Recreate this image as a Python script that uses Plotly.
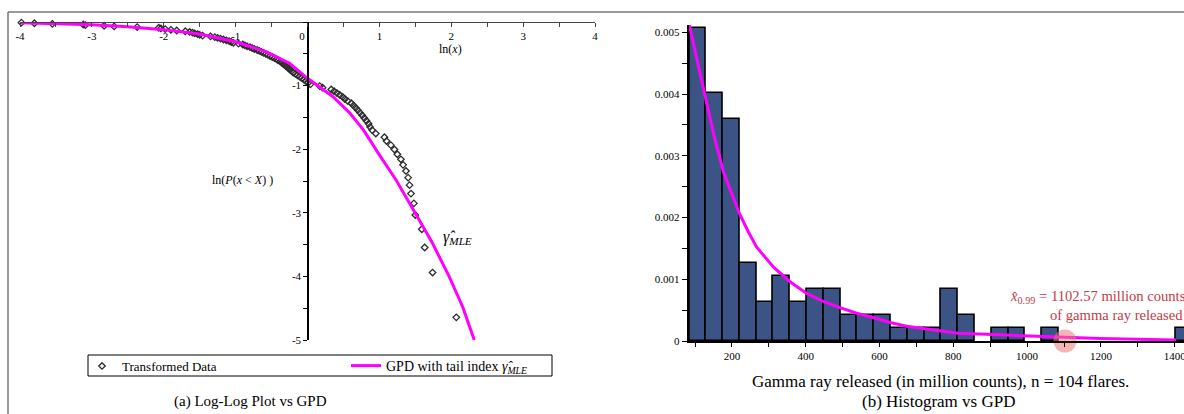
import plotly.graph_objects as go

W, H = 1184, 414
SERIF = "Liberation Serif"

# ---------------- Left panel data: log-log plot ----------------
loglog_x = [-3.98, -3.80, -3.55, -3.12, -3.09, -2.83, -2.69, -2.37, -2.07, -2.04,
            -1.98, -1.90, -1.82, -1.70, -1.64, -1.60, -1.57, -1.53, -1.50, -1.46,
            -1.35, -1.29, -1.25, -1.21, -1.17, -1.13, -1.09, -1.06, -1.03, -0.96,
            -0.90, -0.87, -0.84, -0.80, -0.77, -0.74, -0.70, -0.67, -0.64, -0.61,
            -0.58, -0.55, -0.52, -0.49, -0.46, -0.43, -0.41, -0.38, -0.36, -0.34,
            -0.32, -0.30, -0.28, -0.26, -0.24, -0.22, -0.20, -0.17, -0.14, -0.11,
            -0.08, -0.05, -0.02, 0.01, 0.04, 0.17, 0.21, 0.33, 0.37, 0.41,
            0.45, 0.49, 0.52, 0.56, 0.61, 0.64, 0.67, 0.70, 0.73, 0.76,
            0.79, 0.82, 0.85, 0.87, 0.90, 0.95, 1.07, 1.10, 1.16, 1.21,
            1.25, 1.30, 1.33, 1.37, 1.40, 1.42, 1.44, 1.48, 1.50, 1.59,
            1.63, 1.74, 2.07]
loglog_y = [-0.010, -0.019, -0.029, -0.039, -0.049, -0.059, -0.070, -0.080, -0.091, -0.101,
            -0.112, -0.123, -0.134, -0.145, -0.156, -0.167, -0.178, -0.190, -0.202, -0.214,
            -0.226, -0.238, -0.250, -0.262, -0.275, -0.288, -0.301, -0.314, -0.327, -0.340,
            -0.354, -0.368, -0.382, -0.396, -0.410, -0.425, -0.440, -0.455, -0.470, -0.486,
            -0.501, -0.517, -0.534, -0.550, -0.567, -0.584, -0.601, -0.619, -0.637, -0.655,
            -0.674, -0.693, -0.712, -0.732, -0.752, -0.773, -0.794, -0.816, -0.838, -0.860,
            -0.883, -0.907, -0.931, -0.955, -0.981, -1.007, -1.033, -1.061, -1.089, -1.118,
            -1.148, -1.179, -1.210, -1.243, -1.277, -1.312, -1.348, -1.386, -1.425, -1.466,
            -1.509, -1.553, -1.600, -1.649, -1.700, -1.754, -1.811, -1.872, -1.936, -2.005,
            -2.079, -2.159, -2.246, -2.342, -2.447, -2.565, -2.698, -2.852, -3.034, -3.258,
            -3.546, -3.940, -4.644]

gpd_loglog_x = [-4.02, -3.5, -3.0, -2.5, -2.0, -1.5, -1.0, -0.57, -0.25, 0.0, 0.17,
                0.35, 0.58, 0.78, 1.0, 1.23, 1.46, 1.74, 1.97, 2.16, 2.32]
gpd_loglog_y = [-0.01, -0.025, -0.045, -0.075, -0.12, -0.19, -0.31, -0.47, -0.65, -0.885, -1.02,
                -1.17, -1.42, -1.70, -2.09, -2.48, -2.93, -3.48, -4.0, -4.48, -5.0]

left_xticks = [-4, -3, -2, -1, 0, 1, 2, 3, 4]
left_xticktext = ["-4", "-3", "-2", "-1", "0\u00a0\u00a0\u00a0\u00a0", "1", "2", "3", "4"]
left_yticks = [-5, -4, -3, -2, -1]
left_yticktext = ["-5", "-4", "-3", "-2", "-1"]

# ---------------- Right panel data: histogram ----------------
bin_start = 84.6
bin_width = 45.5
hist_density = [0.00507, 0.00402, 0.00359, 0.00127, 0.00063, 0.00106, 0.00063, 0.00085, 0.00085, 0.00042,
                0.00042, 0.00042, 0.00021, 0.00021, 0.00021, 0.00085, 0.00042, 0.0, 0.00021, 0.00021,
                0.0, 0.00021, 0.0, 0.0, 0.0, 0.0, 0.0, 0.0, 0.0, 0.00021]

gpd_hist_x = [84.6, 108.9, 131.7, 154.2, 176.7, 199.5, 220, 244.4, 267.2, 312.2, 357.5, 402.7, 447.7,
              493, 538.2, 583.2, 628.5, 673.7, 718.7, 764, 812.7, 926.6, 1107.3, 1197.6, 1403.5]
gpd_hist_y = [0.00512, 0.00444, 0.00385, 0.00326, 0.00275, 0.00239, 0.00207, 0.00177, 0.00152, 0.0012,
              0.00096, 0.00077, 0.00064, 0.00054, 0.00045, 0.00038, 0.0003, 0.00024, 0.0002, 0.00016,
              0.000125, 0.0001, 0.000054, 0.00004, 0.000016]

quantile_x = 1102.57

right_xticks = [200, 400, 600, 800, 1000, 1200, 1400]
right_yticks = [0, 0.001, 0.002, 0.003, 0.004, 0.005]
right_yticktext = ["0", "0.001", "0.002", "0.003", "0.004", "0.005"]

# ---------------- helpers ----------------
def px(p):
    return p / W

def py(p):
    return 1 - p / H

bin_centers = [bin_start + bin_width * (i + 0.5) for i in range(len(hist_density))]
bar_x = [c for c, d in zip(bin_centers, hist_density) if d > 0]
bar_y = [d for d in hist_density if d > 0]

fig = go.Figure()

# Left panel traces
fig.add_trace(go.Scatter(
    x=loglog_x, y=loglog_y, mode="markers", name="Transformed Data",
    marker=dict(symbol="diamond-open", size=5, color="#2a2a2a", line=dict(width=1.3)),
    xaxis="x", yaxis="y", cliponaxis=False, legend="legend"))
fig.add_trace(go.Scatter(
    x=gpd_loglog_x, y=gpd_loglog_y, mode="lines",
    name="GPD with tail index <i>γ̂</i><sub><i>MLE</i></sub>",
    line=dict(color="#ff00ff", width=3), xaxis="x", yaxis="y", legend="legend2"))

# Right panel traces
fig.add_trace(go.Bar(
    x=bar_x, y=bar_y, width=bin_width,
    marker=dict(color="#3b5485", line=dict(color="black", width=1.6)),
    xaxis="x2", yaxis="y2", showlegend=False))
fig.add_trace(go.Scatter(
    x=gpd_hist_x, y=gpd_hist_y, mode="lines", line=dict(color="#ff00ff", width=3),
    xaxis="x2", yaxis="y2", showlegend=False))
fig.add_trace(go.Scatter(
    x=[quantile_x], y=[0], mode="markers",
    marker=dict(size=23, color="rgba(235,120,125,0.55)", line=dict(width=0)),
    xaxis="x2", yaxis="y2", showlegend=False, cliponaxis=False))

tickfont = dict(family=SERIF, size=11, color="black")

fig.update_layout(
    width=W, height=H,
    margin=dict(l=0, r=0, t=0, b=0, autoexpand=False),
    paper_bgcolor="white", plot_bgcolor="rgba(0,0,0,0)",
    bargap=0,
    font=dict(family=SERIF, size=11, color="black"),
    xaxis=dict(domain=[px(20), px(595)], range=[-4, 4], anchor="free", position=py(22),
               side="bottom", showline=True, linecolor="#444", linewidth=1,
               ticks="outside", ticklen=4, tickcolor="#444", automargin=False,
               tickvals=left_xticks, ticktext=left_xticktext, tickfont=tickfont,
               minor=dict(dtick=0.5, tick0=0, ticks="outside", ticklen=4, tickcolor="#444"),
               showgrid=False, zeroline=False, fixedrange=True),
    yaxis=dict(domain=[py(340), py(22)], range=[-5, 0], anchor="free", position=px(308),
               side="left", showline=True, linecolor="black", linewidth=1.5,
               ticks="outside", ticklen=4, tickcolor="black", automargin=False,
               tickvals=left_yticks, ticktext=left_yticktext, tickfont=tickfont,
               minor=dict(dtick=0.5, tick0=0, ticks="outside", ticklen=4, tickcolor="black"),
               showgrid=False, zeroline=False, fixedrange=True),
    xaxis2=dict(domain=[px(688.8), 1.0], range=[83.2, 1425.2], anchor="y2",
                showline=True, linecolor="black", linewidth=2, automargin=False,
                ticks="outside", ticklen=4, tickcolor="black", ticklabeloverflow="allow",
                tickvals=right_xticks, tickfont=tickfont,
                minor=dict(dtick=100, tick0=0, ticks="outside", ticklen=4, tickcolor="black"),
                showgrid=False, zeroline=False, fixedrange=True),
    yaxis2=dict(domain=[py(341), py(25)], range=[0, 0.005118], anchor="x2",
                showline=True, linecolor="black", linewidth=2, automargin=False,
                ticks="outside", ticklen=5, tickcolor="black",
                tickvals=right_yticks, ticktext=right_yticktext, tickfont=tickfont,
                minor=dict(dtick=0.0005, tick0=0, ticks="outside", ticklen=5, tickcolor="black"),
                showgrid=False, zeroline=False, fixedrange=True),
    legend=dict(x=px(82), y=py(366), xanchor="left", yanchor="middle", orientation="h",
                bgcolor="rgba(0,0,0,0)", borderwidth=0,
                font=dict(family=SERIF, size=13, color="black")),
    legend2=dict(x=px(346), y=py(366), xanchor="left", yanchor="middle", orientation="h",
                 bgcolor="rgba(0,0,0,0)", borderwidth=0,
                 font=dict(family=SERIF, size=14, color="black")),
)

shapes = [
    # page frame
    dict(type="line", xref="paper", yref="paper", x0=px(8), x1=1.0, y0=py(12), y1=py(12),
         line=dict(color="#777", width=1.5)),
    dict(type="line", xref="paper", yref="paper", x0=px(8), x1=px(8), y0=py(12), y1=0,
         line=dict(color="#777", width=1.5)),
    # legend box
    dict(type="rect", xref="paper", yref="paper", x0=px(88), x1=px(552), y0=py(376), y1=py(355),
         line=dict(color="black", width=1)),
]
fig.update_layout(shapes=shapes)

ann = []
def add_text(text, x, y, size, color="black", xanchor="center"):
    ann.append(dict(text=text, x=px(x), y=py(y), xref="paper", yref="paper", showarrow=False,
                    xanchor=xanchor, yanchor="middle",
                    font=dict(family=SERIF, size=size, color=color)))

add_text("ln(<i>x</i>)", 450, 49, 12)
add_text("ln(<i>P</i>(<i>x</i> &lt; <i>X</i>) )", 242, 180, 12)
add_text("<i>γ̂</i><sub><i>MLE</i></sub>", 457, 237, 16)
add_text("(a) Log-Log Plot vs GPD", 250, 401, 15)
add_text("Gamma ray released (in million counts), n = 104 flares.", 940, 381, 17)
add_text("(b) Histogram vs GPD", 938, 401, 17)
add_text("<i>x̂</i><sub>0.99</sub> = 1102.57 million counts", 1008, 297, 14.6, color="#c23b45", xanchor="left")
add_text("of gamma ray released", 1048, 315, 14.6, color="#c23b45", xanchor="left")
fig.update_layout(annotations=ann)

fig.write_html("out.html")
